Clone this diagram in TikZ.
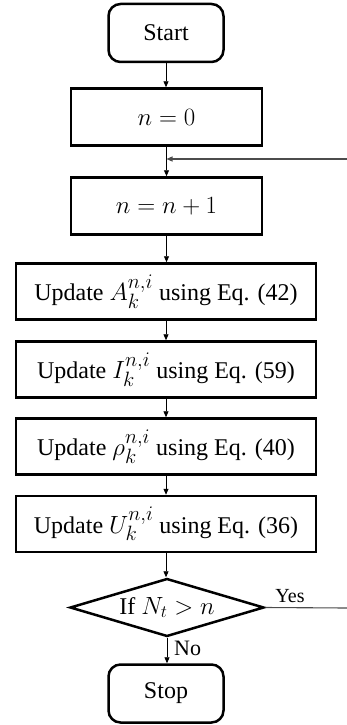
\documentclass[tikz,border=0pt]{standalone}
\usepackage{fontspec}
\setmainfont{Liberation Serif}
\usetikzlibrary{shapes.geometric,arrows.meta}
\DeclareMathSizes{26}{26}{20}{15}
\DeclareMathSizes{25}{25}{19}{14}
\newcommand{\mymath}[2]{{\fontsize{#1}{#1}\selectfont$#2$}}
\begin{document}
\begin{tikzpicture}[x=1pt,y=-1pt,
  box/.style={draw, line width=2.5pt, inner sep=0pt, font=\fontsize{24}{28}\selectfont},
  term/.style={box, rounded corners=12pt, minimum width=115pt, minimum height=58pt},
  nbox/.style={box, minimum width=191pt, minimum height=57pt},
  ubox/.style={box, minimum width=300pt, minimum height=56pt},
  dec/.style={draw, line width=2.5pt, diamond, aspect=3.3, inner sep=0pt, minimum width=194pt, minimum height=58pt, font=\fontsize{24}{28}\selectfont},
  conn/.style={line width=0.9pt, -{Triangle[length=6pt,width=5pt]}},
  gconn/.style={line width=1.1pt, draw=black!70},
  lab/.style={font=\fontsize{20}{24}\selectfont, inner sep=0pt}
]
\useasboundingbox (0,0) rectangle (347,725);
\node[term] (start) at (166,33) {Start};
\node[nbox] (n0) at (166.5,117) {\mymath{26}{n = 0}};
\node[nbox] (n1) at (166.5,206) {\mymath{26}{n = n + 1}};
\node[ubox] (ua) at (166,291.5) {Update \mymath{26}{A_k^{n,i}} using Eq. (42)};
\node[ubox] (ui) at (166,369.5) {Update \mymath{26}{I_k^{n,i}} using Eq. (59)};
\node[ubox] (ur) at (166,446.5) {Update \mymath{26}{\rho_k^{n,i}} using Eq. (40)};
\node[ubox] (uu) at (166,524) {Update \mymath{26}{U_k^{n,i}} using Eq. (36)};
\node[dec] (if) at (167,607.5) {If \mymath{25}{N_t > n}};
\node[term] (stop) at (166,693.5) {Stop};
\coordinate (join) at (166.5,159);
\coordinate (loopR) at (347,159);
\coordinate (yesR) at (347,608);
\draw[conn] (start.south) -- (start.south |- n0.north);
\draw[conn] (n0.south) -- (n1.north);
\draw[conn] (n1.south) -- (n1.south |- ua.north);
\draw[conn] (ua.south) -- (ui.north);
\draw[conn] (ui.south) -- (ur.north);
\draw[conn] (ur.south) -- (uu.north);
\draw[conn] (uu.south) -- (uu.south |- if.north);
\draw[conn] (if.south) -- (if.south |- stop.north);
\draw[gconn, -{Triangle[length=6pt,width=5pt]}] (loopR) -- (join);
\draw[gconn] (if.east) -- (yesR);
\node[lab] (yes) at (290,596) {Yes};
\node[lab, anchor=west, font=\fontsize{22}{24}\selectfont] (no) at (174,648) {No};
\end{tikzpicture}
\end{document}
